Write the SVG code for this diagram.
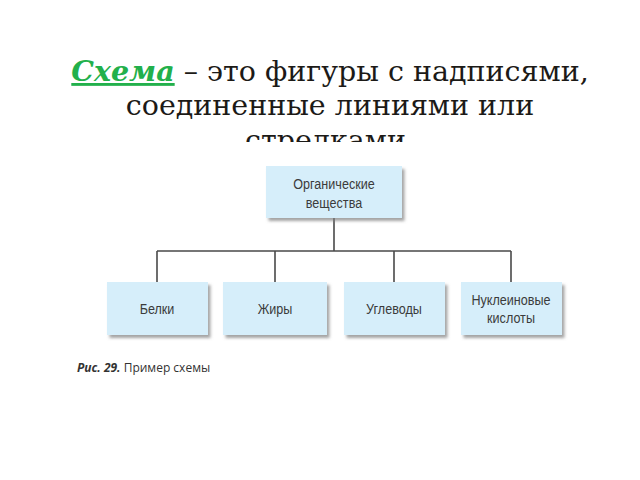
<svg xmlns="http://www.w3.org/2000/svg" width="640" height="480" viewBox="0 0 640 480">
  <style>
    .title { font-family: "DejaVu Serif", serif; font-size: 28.5px; fill: #1c1a17; }
    .key { fill: #22b04b; font-weight: bold; font-style: italic; text-decoration: underline; }
    .box { fill: #d6eefa; filter: url(#sh); }
    .lbl { font-family: "Liberation Sans", "Arial", sans-serif; font-size: 15px; fill: #3b3b3b; text-anchor: middle; }
    .conn { stroke: #4a4a4a; stroke-width: 1.6; fill: none; }
    .cap { font-family: "Open Sans", "Liberation Sans", sans-serif; font-size: 12px; fill: #333; }
  </style>
  <defs>
    <filter id="sh" x="-10%" y="-10%" width="130%" height="140%">
      <feDropShadow dx="2.5" dy="3" stdDeviation="1.5" flood-color="#7d7d7d" flood-opacity="0.7"/>
    </filter>
    <clipPath id="cl"><rect x="0" y="0" width="640" height="142"/></clipPath>
  </defs>
  <rect width="640" height="480" fill="#ffffff"/>
  <g id="title" text-anchor="middle">
    <text class="title" x="330" y="81"><tspan class="key">Схема</tspan> – это фигуры с надписями,</text>
    <text class="title" x="330" y="115">соединенные линиями или</text>
    <text class="title" x="330" y="150" clip-path="url(#cl)">стрелками.</text>
  </g>
  <g id="connectors">
    <path class="conn" d="M334 218 V251 M157 251 H511 M157 251 V283 M275 251 V283 M394 251 V283 M511 251 V283"/>
  </g>
  <g id="n-root">
    <rect class="box" x="266" y="166" width="136" height="52"/>
    <text class="lbl" transform="translate(334 188.5) scale(0.84 1)">Органические</text>
    <text class="lbl" transform="translate(334 208) scale(0.84 1)">вещества</text>
  </g>
  <g id="n-belki">
    <rect class="box" x="107" y="282" width="101" height="53"/>
    <text class="lbl" transform="translate(157 314) scale(0.84 1)">Белки</text>
  </g>
  <g id="n-zhiry">
    <rect class="box" x="223" y="282" width="104" height="53"/>
    <text class="lbl" transform="translate(275 314) scale(0.84 1)">Жиры</text>
  </g>
  <g id="n-uglevody">
    <rect class="box" x="344" y="282" width="101" height="53"/>
    <text class="lbl" transform="translate(394 314) scale(0.84 1)">Углеводы</text>
  </g>
  <g id="n-nukl">
    <rect class="box" x="461" y="282" width="101" height="53"/>
    <text class="lbl" transform="translate(511 305) scale(0.84 1)">Нуклеиновые</text>
    <text class="lbl" transform="translate(511 323) scale(0.84 1)">кислоты</text>
  </g>
  <g id="caption">
    <text class="cap" x="77" y="372"><tspan font-weight="bold" font-style="italic">Рис. 29.</tspan> Пример схемы</text>
  </g>
</svg>
